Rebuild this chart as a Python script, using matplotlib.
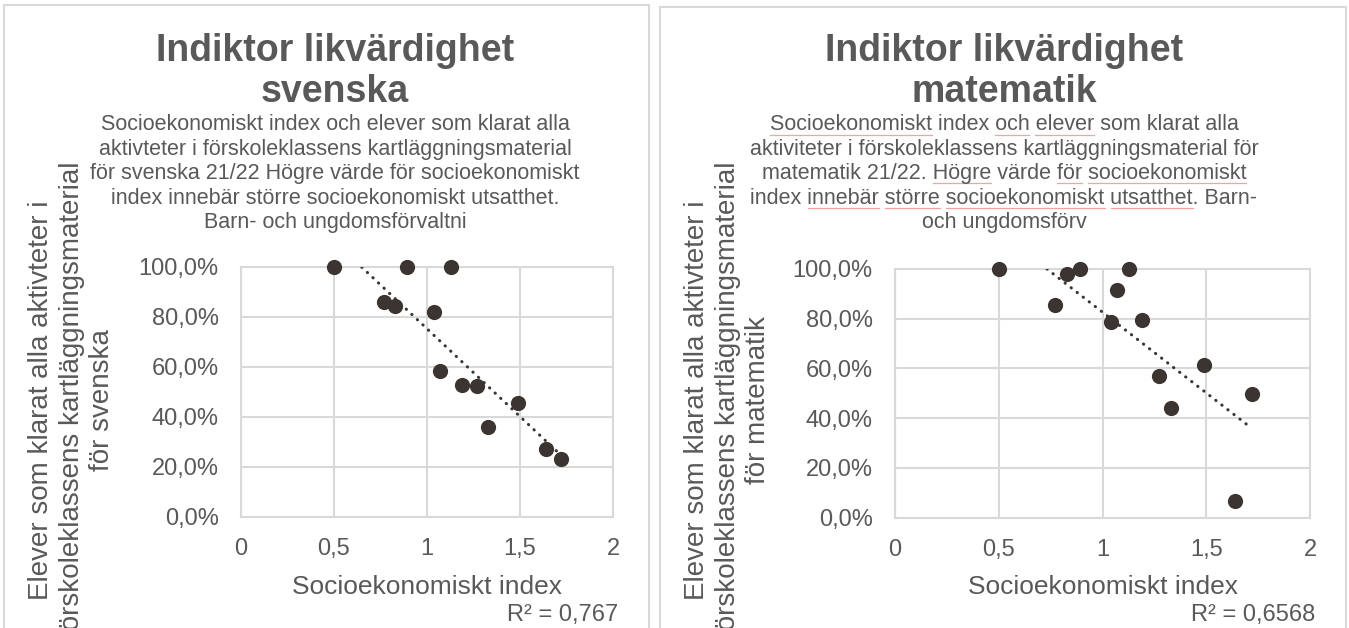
import numpy as np
import matplotlib.pyplot as plt
from matplotlib.patches import Rectangle
from matplotlib.ticker import FuncFormatter, MultipleLocator

plt.rcParams['font.family'] = ['Liberation Sans', 'DejaVu Sans']

# socioekonomiskt index per skola (samma skolor i båda diagrammen)
index_svenska = [0.50, 0.77, 0.83, 0.89, 1.04, 1.07, 1.13, 1.19, 1.27, 1.33, 1.49, 1.64, 1.72]
andel_svenska = [1.00, 0.859, 0.844, 1.00, 0.82, 0.583, 1.00, 0.528, 0.524, 0.359, 0.455, 0.273, 0.231]

index_matematik = [0.50, 0.77, 0.83, 0.89, 1.04, 1.07, 1.13, 1.19, 1.27, 1.33, 1.49, 1.64, 1.72]
andel_matematik = [1.00, 0.857, 0.978, 1.00, 0.787, 0.917, 1.00, 0.796, 0.571, 0.443, 0.613, 0.068, 0.499]

titel = "Indiktor likvärdighet"
amne = ["svenska", "matematik"]
r2_text = ["R² = 0,767", "R² = 0,6568"]

undertitel_svenska = [
    "Socioekonomiskt index och elever som klarat alla",
    "aktivteter i förskoleklassens kartläggningsmaterial",
    "för svenska 21/22 Högre värde för socioekonomiskt",
    "index innebär större socioekonomiskt utsatthet.",
    "Barn- och ungdomsförvaltni",
]
undertitel_matematik = [
    "Socioekonomiskt index och elever som klarat alla",
    "aktiviteter i förskoleklassens kartläggningsmaterial för",
    "matematik 21/22. Högre värde för socioekonomiskt",
    "index innebär större socioekonomiskt utsatthet. Barn-",
    "och ungdomsförv",
]
# ord med stavningsmarkering (radnummer, ordnummer) i högra diagrammet
stavfel_matematik = [(0, 0), (0, 2), (0, 3), (2, 2), (2, 4), (2, 5),
                     (3, 1), (3, 2), (3, 3), (3, 4)]

ylabel_rader = ["Elever som klarat alla aktivteter i",
                "förskoleklassens kartläggningsmaterial"]
xlabel = "Socioekonomiskt index"

W, H = 1349, 628
GRAY = '#595959'
GRID = '#d9d9d9'
DOT = '#3b3431'

fig = plt.figure(figsize=(W / 100, H / 100), dpi=100)


def fx(px):
    return px / W


def fy(py):
    return 1 - py / H


panels = [
    dict(box=(4, 5, 649), ax=(241, 517, 613, 267), cx=335, x=index_svenska, y=andel_svenska,
         sub=undertitel_svenska, ylab_x=(41, 72, 102)),
    dict(box=(660, 7, 1346), ax=(895, 517.7, 1310, 269), cx=1004, x=index_matematik, y=andel_matematik,
         sub=undertitel_matematik, ylab_x=(697, 728, 758)),
]

renderer = fig.canvas.get_renderer()

for i, p in enumerate(panels):
    left, top, right = p['box']
    fig.add_artist(Rectangle((fx(left), -0.05), fx(right - left), fy(top) + 0.05,
                             transform=fig.transFigure, fill=False, edgecolor=GRID, lw=1.5))

    x0, y0, x1, y1 = p['ax']
    ax = fig.add_axes([fx(x0), fy(y0), fx(x1 - x0), (y0 - y1) / H])
    ax.set_xlim(0, 2)
    ax.set_ylim(0, 1)
    ax.xaxis.set_major_locator(MultipleLocator(0.5))
    ax.yaxis.set_major_locator(MultipleLocator(0.2))
    ax.xaxis.set_major_formatter(FuncFormatter(lambda v, _: f"{v:g}".replace('.', ',')))
    ax.yaxis.set_major_formatter(FuncFormatter(lambda v, _: f"{v * 100:.1f}%".replace('.', ',')))
    ax.tick_params(axis='both', length=0, labelsize=17, labelcolor=GRAY)
    ax.tick_params(axis='y', pad=16)
    ax.tick_params(axis='x', pad=15)
    ax.grid(True, color=GRID, lw=1.5)
    ax.set_axisbelow(True)
    for s in ax.spines.values():
        s.set_color(GRID)
        s.set_linewidth(1.5)

    xs = np.array(p['x'])
    ys = np.array(p['y'])
    ax.scatter(xs, ys, s=120, color=DOT, zorder=3, clip_on=False, linewidths=0)

    k, m = np.polyfit(xs, ys, 1)
    tx = np.array([xs.min(), xs.max()])
    ax.plot(tx, k * tx + m, color=DOT, lw=2.2, linestyle=(0, (0.1, 2.4)),
            dash_capstyle='round', zorder=4)

    hgt = y0 - y1
    ax.text(0.5, -(587 - y0) / hgt, xlabel, transform=ax.transAxes,
            ha='center', va='center', fontsize=19, color=GRAY)
    ax.text(1 + 5 / (x1 - x0), -(615 - y0) / hgt, r2_text[i], transform=ax.transAxes,
            ha='right', va='center', fontsize=17, color=GRAY)

    # titel och undertitel
    cx = p['cx']
    fig.text(fx(cx), fy(61), titel, ha='center', va='baseline', fontsize=27,
             fontweight='bold', color=GRAY)
    fig.text(fx(cx), fy(101.5), amne[i], ha='center', va='baseline', fontsize=27,
             fontweight='bold', color=GRAY)
    for j, line in enumerate(p['sub']):
        by = 130.5 + 24.4 * j
        t = fig.text(fx(cx), fy(by), line, ha='center', va='baseline', fontsize=15.5, color=GRAY)
        if i == 1:
            prop = t.get_fontproperties()
            full = renderer.get_text_width_height_descent(line, prop, ismath=False)[0]
            words = line.split(' ')
            for (r, w) in stavfel_matematik:
                if r != j:
                    continue
                word = words[w].rstrip('.')
                end = renderer.get_text_width_height_descent(' '.join(words[:w] + [word]), prop, ismath=False)[0]
                start = end - renderer.get_text_width_height_descent(word, prop, ismath=False)[0]
                xa = cx - full / 2 + start
                xb = cx - full / 2 + end
                fig.add_artist(plt.Line2D([fx(xa), fx(xb)], [fy(by + 4), fy(by + 4)],
                                          transform=fig.transFigure, color='#f2a3a3', lw=0.9))

    # y-axeltitel i tre rader, centrerade kring samma höjd
    ylab = ylabel_rader + ["för " + amne[i]]
    for lx, txt in zip(p['ylab_x'], ylab):
        fig.text(fx(lx), fy(400), txt, rotation=90, ha='center', va='center',
                 fontsize=20, color=GRAY)

fig.savefig('out.png', dpi=100)
